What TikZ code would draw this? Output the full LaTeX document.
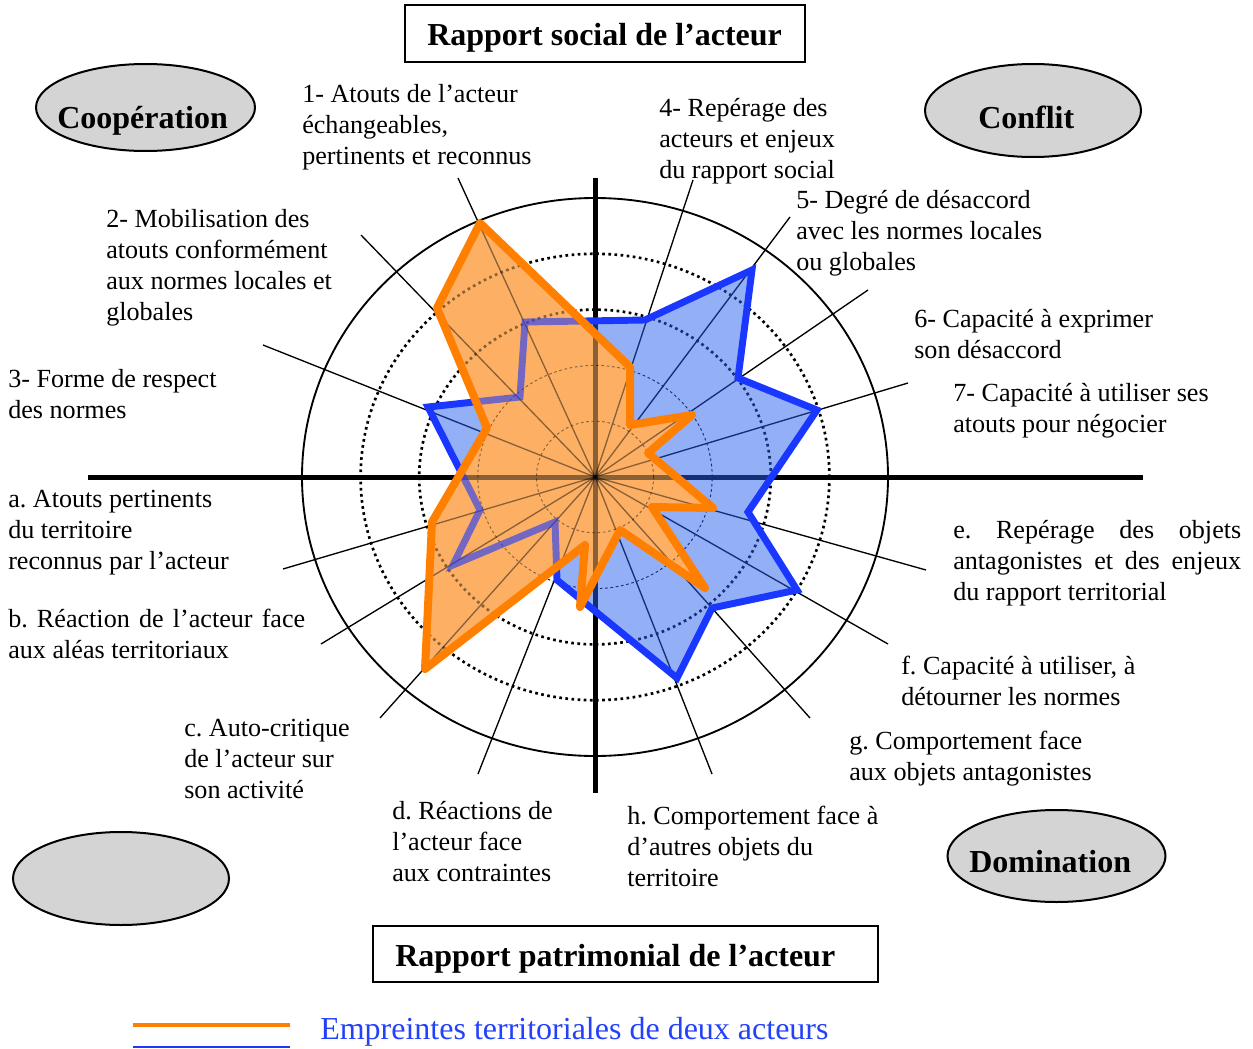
\documentclass[tikz,border=0pt]{standalone}
\usepackage{fontspec}
\setmainfont{Liberation Serif}
\usetikzlibrary{shapes.geometric}
\definecolor{orangeL}{RGB}{255,127,0}
\definecolor{orangeF}{RGB}{253,176,100}
\definecolor{blueL}{RGB}{25,55,255}
\definecolor{blueF}{RGB}{40,95,235}
\definecolor{legblue}{RGB}{35,65,250}
\definecolor{ellfill}{RGB}{212,212,212}
\newcommand\lblfont{\fontsize{19.6pt}{23.25pt}\selectfont\frenchspacing}
\newcommand\hdrfont{\fontsize{24pt}{28pt}\selectfont\bfseries}
\newcommand\legfont{\fontsize{24pt}{28pt}\selectfont}
\def\bluepath{(525,322) -- (520,397) -- (428,407) -- (480,510) -- (453,565) -- (555,522)
  -- (557,580) -- (677,678) -- (712,608) -- (797,590) -- (748,512) -- (817,410)
  -- (738,378) -- (752,270) -- (645,320) -- cycle}
\def\orangepath{(480,223) -- (437,308) -- (487,428) -- (432,522) -- (425,669) -- (585,545)
  -- (580,607) -- (620,530) -- (705,588) -- (652,507) -- (713,508) -- (648,453)
  -- (692,415) -- (630,425) -- (630,367) -- cycle}
\begin{document}
\begin{tikzpicture}[x=0.75pt,y=-0.75pt,
  lbl/.style={font=\lblfont, align=left, anchor=north west, inner sep=0pt},
  hdrtext/.style={font=\hdrfont, anchor=base west, inner sep=0pt},
  spoke/.style={line width=1pt},
  axisline/.style={line width=3.75pt},
  ring/.style={line width=1.4pt},
  dotring/.style={line width=2pt, dash pattern=on 2pt off 2.6pt},
  thinring/.style={line width=0.7pt, dash pattern=on 2pt off 2pt},
  oval/.style={ellipse, draw, line width=1.5pt, fill=ellfill, inner sep=0pt},
  hbox/.style={draw, line width=1.5pt, inner sep=0pt},
  blueline/.style={blueL, line width=5.2pt, line join=miter, miter limit=4}]
\useasboundingbox (0,0) rectangle (1253,1049);
\coordinate (O) at (595,477);
\coordinate (axL) at (88,477);
\coordinate (axR) at (1143,477);
\coordinate (axT) at (595,178);
\coordinate (axB) at (595,793);
\coordinate (s1) at (458,178);
\coordinate (s2) at (361,235);
\coordinate (s3) at (263,345);
\coordinate (s4) at (693,180);
\coordinate (s5) at (790,217);
\coordinate (s6) at (868,290);
\coordinate (s7) at (908,383);
\coordinate (sa) at (283,569);
\coordinate (sb) at (321,644);
\coordinate (sc) at (380,718);
\coordinate (sd) at (478,774);
\coordinate (se) at (926,570);
\coordinate (sf) at (888,644);
\coordinate (sg) at (810,718);
\coordinate (sh) at (712,774);

% grid (rings, axes, spokes)
\def\drawgrid{%
\draw[ring] (O) ellipse [x radius=219.75pt, y radius=209.25pt];
\draw[dotring] (O) ellipse [x radius=175.8pt, y radius=167.4pt];
\draw[dotring] (O) ellipse [x radius=131.85pt, y radius=125.55pt];
\draw[thinring] (O) ellipse [x radius=87.9pt, y radius=83.7pt];
\draw[thinring] (O) ellipse [x radius=43.95pt, y radius=41.85pt];
\draw[axisline] (axL) -- (axR);
\draw[axisline] (axT) -- (axB);
\foreach \n in {1,2,3,4,5,6,7,a,b,c,d,e,f,g,h}
  \draw[spoke] (O) -- (s\n);}
\drawgrid

% blue footprint
\draw[blueline, fill=blueF, fill opacity=0.5] \bluepath;

% orange footprint (opaque fill, grid seen through it)
\fill[orangeF] \orangepath;
\begin{scope}
  \clip \orangepath;
  \begin{scope}[opacity=0.45]
    \drawgrid
  \end{scope}
  \draw[blueline, opacity=0.6] \bluepath;
\end{scope}
\draw[orangeL, line width=6pt, line join=round] \orangepath;

% labels
\node[lbl] (L1) at (302,80.3) {\strut 1- Atouts de l’acteur\\échangeables,\\pertinents et reconnus};
\node[lbl] (L2) at (106,205.3) {\strut 2- Mobilisation des\\atouts conformément\\aux normes locales et\\globales};
\node[lbl] (L3) at (8,365.3) {\strut 3- Forme de respect\\des normes};
\node[lbl] (L4) at (659,94.3) {\strut 4- Repérage des\\acteurs et enjeux\\du rapport social};
\node[lbl] (L5) at (796,186.3) {\strut 5- Degré de désaccord\\avec les normes locales\\ou globales};
\node[lbl] (L6) at (914,305.3) {\strut 6- Capacité à exprimer\\son désaccord};
\node[lbl] (L7) at (953,379.3) {\strut 7- Capacité à utiliser ses\\atouts pour négocier};
\node[lbl] (La) at (8,485.3) {\strut a. Atouts pertinents\\du territoire\\reconnus par l’acteur};
\node[lbl] (Lb) at (8,605.3) {\strut\makebox[222.75pt][s]{b. Réaction de l’acteur face}\\aux aléas territoriaux};
\node[lbl] (Lc) at (184,714.3) {\strut c. Auto-critique\\de l’acteur sur\\son activité};
\node[lbl] (Ld) at (392,797.3) {\strut d. Réactions de\\l’acteur face\\aux contraintes};
\node[lbl] (Le) at (953,516.3) {\strut\makebox[216pt][s]{e. Repérage des objets}\\\makebox[216pt][s]{antagonistes et des enjeux}\\du rapport territorial};
\node[lbl] (Lf) at (901,652.3) {\strut f. Capacité à utiliser, à\\détourner les normes};
\node[lbl] (Lg) at (849,727.3) {\strut g. Comportement face\\aux objets antagonistes};
\node[lbl] (Lh) at (627,802.3) {\strut h. Comportement face à\\d’autres objets du\\territoire};

% header boxes
\node[hbox, minimum width=300pt, minimum height=42.75pt] (hsoc) at (605,33.5) {};
\node[hdrtext] (hsocT) at (427,46) {Rapport social de l’acteur};
\node[hbox, minimum width=378.75pt, minimum height=42pt] (hpat) at (625.5,954) {};
\node[hdrtext] (hpatT) at (395,966) {Rapport patrimonial de l’acteur};

% ovals
\node[oval, minimum width=164.25pt, minimum height=65.25pt] (coop) at (145.5,107.5) {};
\node[hdrtext] (coopT) at (57,128) {Coopération};
\node[oval, minimum width=162pt, minimum height=69.75pt] (conf) at (1033,110.5) {};
\node[hdrtext] (confT) at (978,128) {Conflit};
\node[oval, minimum width=162pt, minimum height=69.75pt] (blank) at (121,878.5) {};
\node[oval, minimum width=163.5pt, minimum height=69pt] (dom) at (1056.5,856) {};
\node[hdrtext] (domT) at (969,872) {Domination};

% legend
\coordinate (lo1) at (133,1025);
\coordinate (lo2) at (290,1025);
\coordinate (lb1) at (133,1047);
\coordinate (lb2) at (290,1047);
\draw[orangeL, line width=3pt] (lo1) -- (lo2);
\draw[blueL, line width=1.3pt] (lb1) -- (lb2);
\node[anchor=base west, inner sep=0pt, font=\legfont, text=legblue] (leg) at (320,1039) {Empreintes territoriales de deux acteurs};
\end{tikzpicture}
\end{document}
